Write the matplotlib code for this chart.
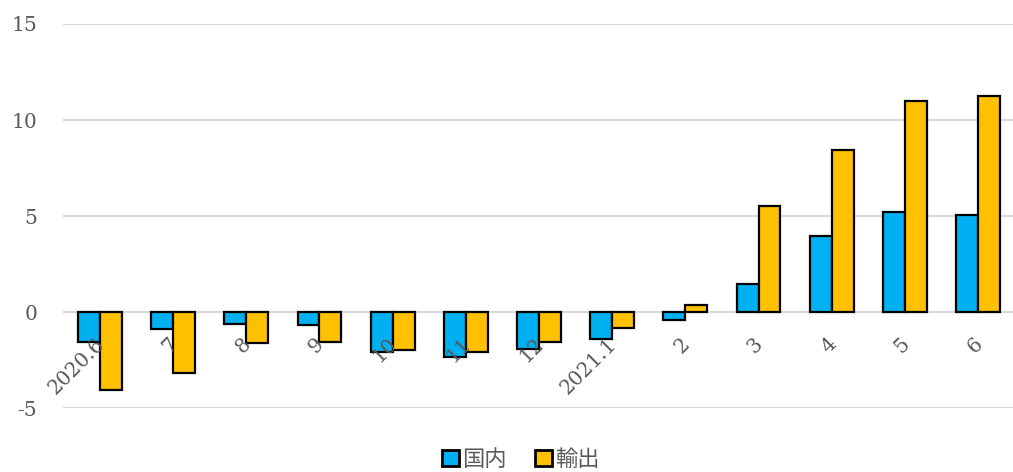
import matplotlib
matplotlib.use("Agg")
import matplotlib.pyplot as plt
import matplotlib.transforms as mtransforms
from matplotlib.patches import Patch
import numpy as np

categories = ["2020.6", "7", "8", "9", "10", "11", "12", "2021.1", "2", "3", "4", "5", "6"]
domestic = [-1.54, -0.9, -0.63, -0.66, -2.1, -2.33, -1.93, -1.41, -0.42, 1.46, 3.96, 5.19, 5.05]
export = [-4.06, -3.16, -1.6, -1.55, -1.98, -2.1, -1.55, -0.82, 0.36, 5.52, 8.44, 11.0, 11.25]
series_names = ["国内", "輸出"]
yticks = [-5, 0, 5, 10, 15]

c_dom = "#00B0F0"
c_exp = "#FFC000"
gray = "#595959"

fig = plt.figure(figsize=(10.13, 4.72), dpi=100)
ax = fig.add_axes([63.4 / 1013, 64 / 472, 951.2 / 1013, 384 / 472])

x = np.arange(len(categories))
w = 0.3
ax.bar(x - w / 2, domestic, w, color=c_dom, edgecolor="black", linewidth=1.6, zorder=3)
ax.bar(x + w / 2, export, w, color=c_exp, edgecolor="black", linewidth=1.6, zorder=3)

ax.set_xlim(-0.5, len(categories) - 0.5)
ax.set_ylim(-5, 15)
ax.set_yticks(yticks)
ax.set_yticklabels([str(v) for v in yticks], fontfamily="DejaVu Serif", fontsize=14.5, color=gray)
ax.tick_params(axis="y", length=0, pad=19)
ax.set_xticks([])
ax.grid(axis="y", color="#d9d9d9", linewidth=1.6, zorder=0)
for s in ax.spines.values():
    s.set_visible(False)

for i, lab in enumerate(categories):
    tr = mtransforms.offset_copy(ax.transData, fig=fig, x=1.5, y=-29, units="dots")
    ax.text(i, 0, lab, transform=tr, rotation=45, rotation_mode="anchor",
            ha="right", va="center", fontfamily="DejaVu Serif", fontsize=14.5, color=gray)

handles = [Patch(facecolor=c_dom, edgecolor="black", linewidth=2),
           Patch(facecolor=c_exp, edgecolor="black", linewidth=2)]
leg = fig.legend(handles, series_names, loc="center", bbox_to_anchor=(521 / 1013, 1 - 459 / 472),
                 ncol=2, frameon=False, handlelength=0.75, handleheight=0.75, handletextpad=0.15,
                 columnspacing=1.3, borderpad=0.2,
                 prop={"family": ["Noto Sans CJK JP", "DejaVu Sans"], "size": 16})
for t in leg.get_texts():
    t.set_color(gray)

fig.savefig("out.png", dpi=100)
